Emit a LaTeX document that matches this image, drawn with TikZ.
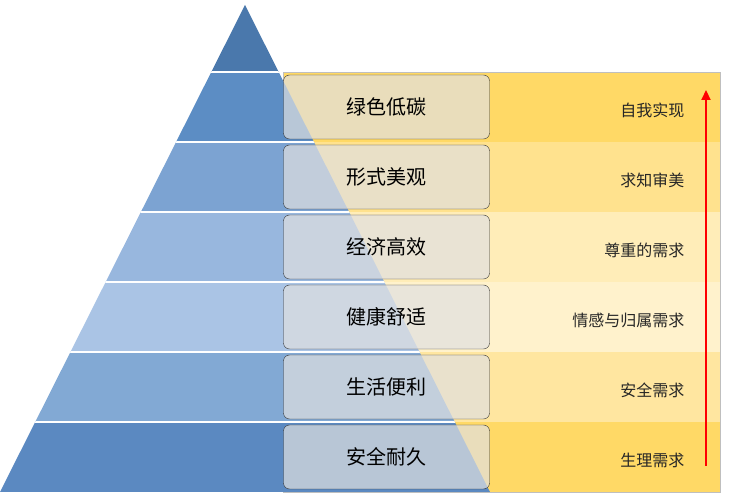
\documentclass[tikz,border=0pt]{standalone}
\usepackage{fontspec}
\setmainfont{Noto Sans CJK SC}
\usetikzlibrary{arrows.meta}
\definecolor{bandA}{HTML}{4A78AC}
\definecolor{bandB}{HTML}{5C8DC4}
\definecolor{bandC}{HTML}{7CA3D2}
\definecolor{bandD}{HTML}{98B7DE}
\definecolor{bandE}{HTML}{AAC4E5}
\definecolor{bandF}{HTML}{82A9D4}
\definecolor{bandG}{HTML}{5B89C1}
\definecolor{goldA}{HTML}{FFD966}
\definecolor{goldB}{HTML}{FFE28E}
\definecolor{goldC}{HTML}{FFEDB8}
\definecolor{goldD}{HTML}{FFF2CC}
\definecolor{goldE}{HTML}{FFE6A0}
\definecolor{goldF}{HTML}{FFD966}
\tikzset{
  levelbox/.style={draw=black!80, rounded corners=6pt, fill=black!12, fill opacity=0.7,
    text opacity=1, minimum width=206pt, minimum height=64pt, font=\fontsize{20}{22}\selectfont},
  needtext/.style={anchor=east, font=\fontsize{16}{18}\selectfont, text=black!85}
}
\begin{document}
\begin{tikzpicture}[x=1pt, y=-1pt]
    \useasboundingbox (0,0) rectangle (729,494);

    % yellow bands on the right
    \foreach \i/\c in {0/goldA,1/goldB,2/goldC,3/goldD,4/goldE,5/goldF}
        \fill[\c] (283,{72+70*\i}) rectangle (720,{142+70*\i});
    \draw[black!25] (283,72) rectangle (720,492);

    % pyramid
    \begin{scope}
        \clip (245,5) -- (490,492) -- (0,492) -- cycle;
        \fill[bandA] (0,0) rectangle (490,72);
        \foreach \i/\c in {0/bandB,1/bandC,2/bandD,3/bandE,4/bandF,5/bandG}
            \fill[\c] (0,{72+70*\i}) rectangle (490,{142+70*\i});
        \foreach \y in {72,142,212,282,352,422}
            \draw[white, line width=2.5pt] (0,\y) -- (490,\y);
    \end{scope}

    % levels and needs
    \foreach \i/\lvl/\need in {0/绿色低碳/自我实现,1/形式美观/求知审美,2/经济高效/尊重的需求,
                               3/健康舒适/情感与归属需求,4/生活便利/安全需求,5/安全耐久/生理需求} {
        \node[levelbox] (lvl\i) at (386.5,{107+70*\i}) {\lvl};
        \node[needtext] (need\i) at (688,{110+70*\i}) {\need};
    }

    % rising arrow
    \coordinate (low) at (706,466);
    \coordinate (high) at (706,90);
    \draw[red, line width=2.2pt, -{Triangle[length=10pt,width=9pt]}] (low) -- (high);
\end{tikzpicture}
\end{document}
